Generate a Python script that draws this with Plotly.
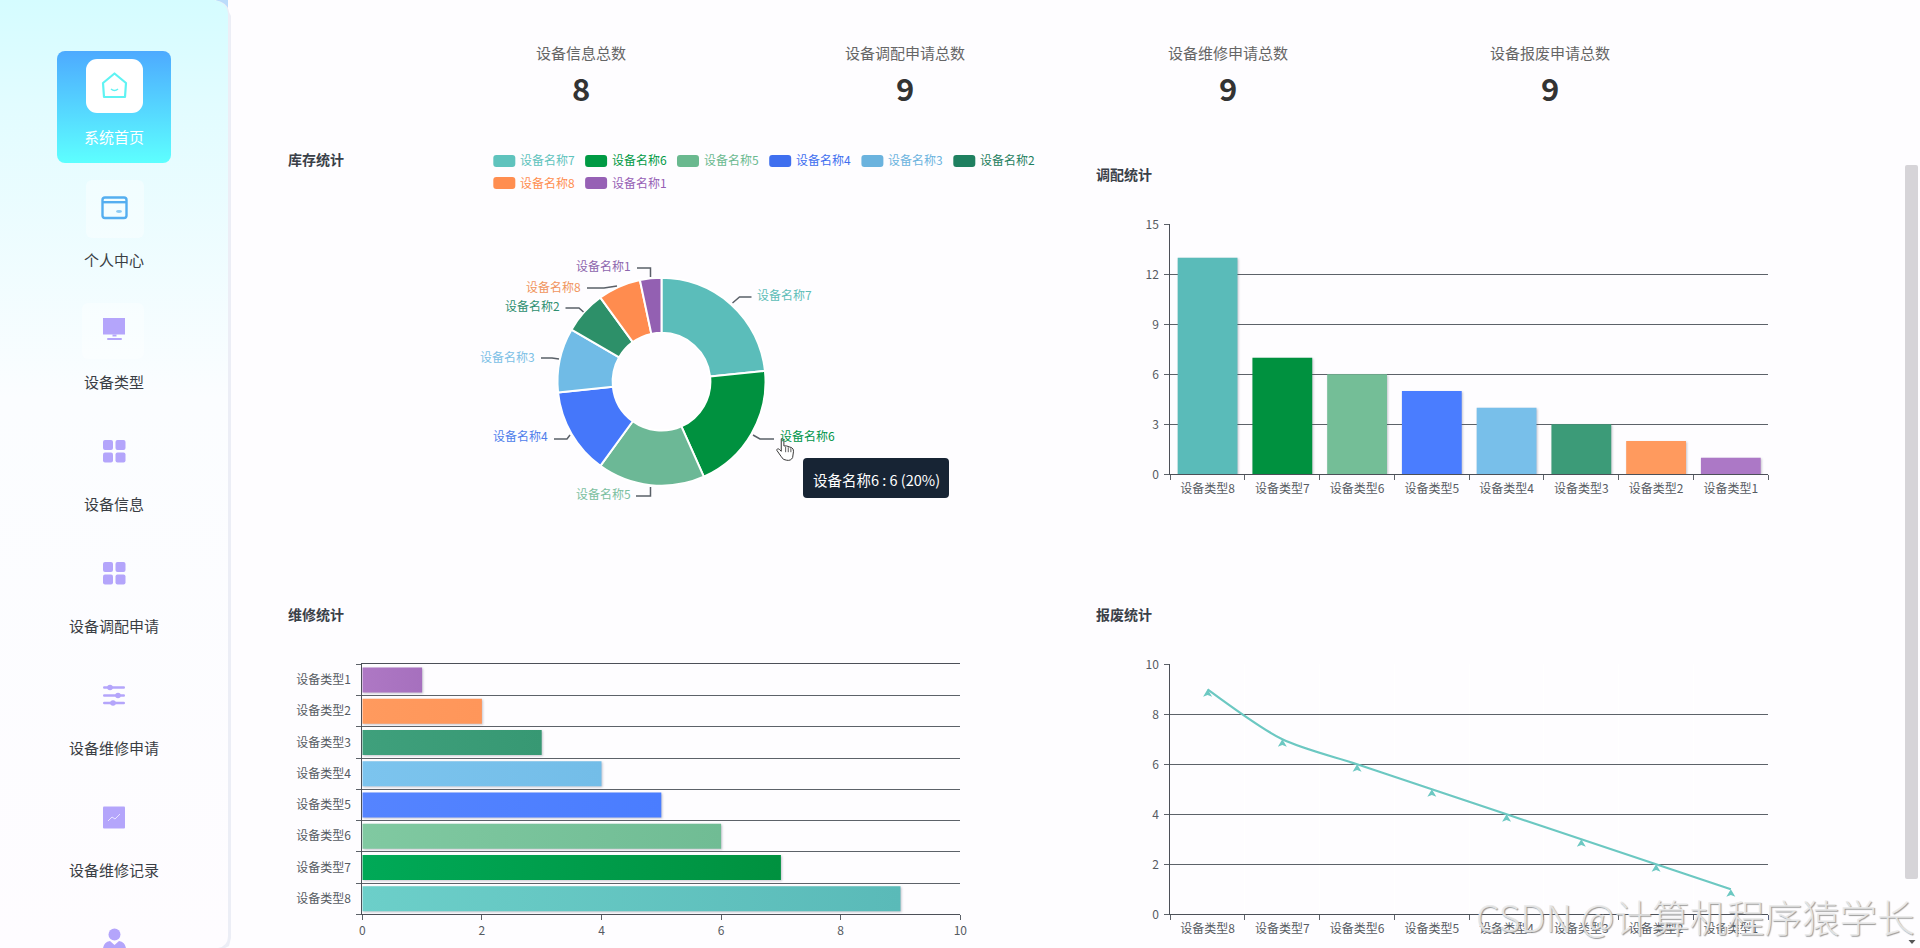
import base64, json
import plotly.graph_objects as go

# ---------- data ----------
kpi_labels = ["设备信息总数", "设备调配申请总数", "设备维修申请总数", "设备报废申请总数"]
kpi_values = ["8", "9", "9", "9"]
nav_labels = ["系统首页", "个人中心", "设备类型", "设备信息", "设备调配申请", "设备维修申请", "设备维修记录"]

stock_names = ["设备名称7", "设备名称6", "设备名称5", "设备名称4", "设备名称3", "设备名称2", "设备名称8", "设备名称1"]
stock_values = [7, 6, 5, 4, 3, 2, 2, 1]

transfer_cats = ["设备类型8", "设备类型7", "设备类型6", "设备类型5", "设备类型4", "设备类型3", "设备类型2", "设备类型1"]
transfer_values = [13, 7, 6, 5, 4, 3, 2, 1]

repair_cats = ["设备类型8", "设备类型7", "设备类型6", "设备类型5", "设备类型4", "设备类型3", "设备类型2", "设备类型1"]
repair_values = [9, 7, 6, 5, 4, 3, 2, 1]

scrap_cats = ["设备类型8", "设备类型7", "设备类型6", "设备类型5", "设备类型4", "设备类型3", "设备类型2", "设备类型1"]
scrap_values = [9, 7, 6, 5, 4, 3, 2, 1]

# ---------- styles ----------
W, H = 1920, 948
FONT = "Noto Sans CJK SC"
BG = "#FEFDFF"
GRID = "#5D6269"
TICK = "#565B62"
pie_colors = ["#5BBDBA", "#00913F", "#6CB896", "#4577FA", "#70BBE6", "#2D9069", "#FF8C4F", "#9360B2"]
legend_colors = ["#5FC3BD", "#009A44", "#6AB98F", "#3F6FEF", "#6BB3DE", "#1F8060", "#FF8E50", "#9660B5"]
label_colors = ["#5FBDB8", "#00954A", "#7BBFA0", "#4F7DEB", "#7CC0E6", "#2F8F70", "#F0955E", "#8E66AE"]
vbar_colors = ["#5ABBB9", "#00913F", "#74BE97", "#4A7DFF", "#78BFEA", "#3C9B78", "#FF9A5E", "#AC78C6"]
hbar_left = ["#6CCFC9", "#00A957", "#80C9A1", "#5584FF", "#7CC4EE", "#3FA07C", "#FF9A5E", "#AE78C4"]
hbar_right = ["#5ABAB8", "#00913F", "#70BC94", "#4A7DFF", "#73BDE8", "#379873", "#FF965A", "#A670BE"]
hbar_mid = ["#63C4C0", "#009D4B", "#78C29A", "#4F80FF", "#78C0EB", "#3B9C77", "#FF985C", "#AA74C1"]
line_color = "#6CC8C2"


def X(v):
    return v / W


def Y(v):
    return 1 - v / H


def path_of(points):
    return "M" + " L".join(f"{X(a):.5f},{Y(b):.5f}" for a, b in points)


def rounded(x0, y0, x1, y1, r):
    def p(a, b):
        return f"{X(a):.5f},{Y(b):.5f}"
    return (f"M{p(x0 + r, y0)} L{p(x1 - r, y0)} Q{p(x1, y0)} {p(x1, y0 + r)} "
            f"L{p(x1, y1 - r)} Q{p(x1, y1)} {p(x1 - r, y1)} L{p(x0 + r, y1)} "
            f"Q{p(x0, y1)} {p(x0, y1 - r)} L{p(x0, y0 + r)} Q{p(x0, y0)} {p(x0 + r, y0)} Z")


shapes = []
annotations = []


def text(s, x, y, size=12, color="#333", anchor="center", bold=False, **kw):
    if anchor == "left":
        x -= 1.5
    annotations.append(dict(
        text=f"<b>{s}</b>" if bold else s, x=X(x), y=Y(y - 1), xref="paper", yref="paper",
        xanchor=anchor, yanchor="middle", showarrow=False,
        font=dict(size=size, color=color, family=kw.pop("family", FONT), **kw),
        borderpad=0))


# ---------- sidebar artwork as one svg image ----------
ICON = "#B4A5FB"
def grid_icon(y):
    return "".join(f'<rect x="{x}" y="{y + dy}" width="10" height="10" rx="2" fill="{ICON}"/>'
                   for x in (103, 115.5) for dy in (0, 12.5))


svg_parts = [f'''<svg xmlns="http://www.w3.org/2000/svg" width="240" height="{H}" viewBox="0 0 240 {H}">
<defs>
<linearGradient id="side" x1="0" y1="0" x2="0" y2="1">
<stop offset="0" stop-color="#D5FCFF"/><stop offset="0.11" stop-color="#E2FCFF"/>
<stop offset="0.42" stop-color="#FBFDFF"/><stop offset="1" stop-color="#FEFCFF"/></linearGradient>
<linearGradient id="act" x1="0" y1="0" x2="0" y2="1">
<stop offset="0" stop-color="#4DAAFF"/><stop offset="1" stop-color="#5DFFFF"/></linearGradient>
</defs>
<rect x="216" y="0" width="12" height="12" fill="#BBDCFB"/>
<path d="M229,12 L231,16 L231,938 L229,946 L225,948 L0,948 L0,0 L214,0 Q228,2 229,12 Z" fill="#ECEEF6"/>
<path d="M228,14 L228,936 Q228,946 218,948 L0,948 L0,0 L214,0 Q227,2 228,14 Z" fill="url(#side)"/>
<rect x="57" y="51" width="114" height="112" rx="8" fill="url(#act)"/>
<rect x="86" y="59" width="57" height="54" rx="11" fill="#FFFFFF"/>
<path d="M103,83 L114.5,73.5 L126,83 L125,97 L104,97 Z" fill="none" stroke="#5FF3F3" stroke-width="2.2" stroke-linejoin="round"/>
<path d="M111,89 Q114.5,92 118,89" fill="none" stroke="#5FF3F3" stroke-width="1.6"/>
<rect x="86" y="180" width="58" height="58" rx="6" fill="#FFFFFF" fill-opacity="0.4"/>
<rect x="102.5" y="197.5" width="24" height="20.5" rx="2.5" fill="none" stroke="#54AEF0" stroke-width="2.4"/>
<rect x="102.5" y="201" width="24" height="2.4" fill="#54AEF0"/>
<ellipse cx="119" cy="211.5" rx="3" ry="1.4" fill="#8CCBF5"/>
<rect x="82" y="303" width="62" height="56" rx="6" fill="#FFFFFF" fill-opacity="0.35"/>
<rect x="103" y="318" width="22" height="16.5" fill="{ICON}"/>
<rect x="112.5" y="334.5" width="4" height="2" fill="{ICON}"/>
<rect x="107" y="338" width="15" height="2" rx="1" fill="{ICON}"/>
''', grid_icon(440), grid_icon(562)]
for yy, cx in ((687.5, 110), (695.5, 118), (703, 113)):
    svg_parts.append(f'<rect x="103" y="{yy - 1.2}" width="22" height="2.4" rx="1.2" fill="{ICON}"/>'
                     f'<circle cx="{cx}" cy="{yy}" r="2.8" fill="{ICON}"/>')
svg_parts.append(f'''<rect x="103" y="806.5" width="22" height="22" rx="1" fill="{ICON}"/>
<path d="M108,821 L112,817 L115,819 L120,814" fill="none" stroke="#EEEAFF" stroke-width="0.9"/>
<circle cx="114.5" cy="934.5" r="6" fill="{ICON}"/>
<path d="M103,948 Q104,942 110,941 L114.5,945 L119,941 Q125,942 126,948 Z" fill="{ICON}"/>
</svg>''')
side_svg = "".join(svg_parts)
cursor_svg = '''<svg xmlns="http://www.w3.org/2000/svg" width="24" height="28" viewBox="0 0 24 28">
<path d="M6,2 Q8,1 9,3 L9,10 L12,10 L15,11 L18,12 Q20,13 20,16 L19,23 Q17,27 12,26 Q8,26 6,22 L1,15 Q1,12 4,14 L6,16 Z" fill="#FFFFFF" stroke="#333" stroke-width="1.1"/>
<path d="M11,11 L11,17 M14,11.5 L14,17 M17,12.5 L17,17" stroke="#333" stroke-width="0.9"/></svg>'''


def data_uri(svg):
    return "data:image/svg+xml;base64," + base64.b64encode(svg.encode("utf-8")).decode()


images = [
    dict(source=data_uri(side_svg), xref="paper", yref="paper", x=0, y=1, sizex=X(240), sizey=1,
         xanchor="left", yanchor="top", layer="below", sizing="stretch"),
    dict(source=data_uri(cursor_svg), xref="paper", yref="paper", x=X(776), y=Y(437), sizex=X(21),
         sizey=25 / H, xanchor="left", yanchor="top", layer="above", sizing="stretch"),
]

# nav text
nav_y = [138, 260.7, 382.7, 504, 626.7, 748.7, 870.7]
for i, (lab, yy) in enumerate(zip(nav_labels, nav_y)):
    text(lab, 113.5, yy, size=15, color="#FFFFFF" if i == 0 else "#3A3E44")

# kpis
kpi_x = [581, 904.6, 1227.6, 1550]
for lab, val, xx in zip(kpi_labels, kpi_values, kpi_x):
    text(lab, xx, 53.5, size=15, color="#666666")
    text(val, xx, 88, size=31, color="#333333", bold=True)

# titles
text("库存统计", 288, 160, size=14, color="#3A4048", anchor="left", bold=True)
text("调配统计", 1096, 175, size=14, color="#3A4048", anchor="left", bold=True)
text("维修统计", 288, 615, size=14, color="#3A4048", anchor="left", bold=True)
text("报废统计", 1096, 615, size=14, color="#3A4048", anchor="left", bold=True)

# legend of the pie
leg_pos = [(493.3, 161), (585.1, 161), (677, 161), (769.2, 161), (861.4, 161), (953.3, 161), (493.3, 183), (585.1, 183)]
for name, col, (lx, ly) in zip(stock_names, legend_colors, leg_pos):
    shapes.append(dict(type="path", xref="paper", yref="paper", path=rounded(lx, ly - 6, lx + 22, ly + 6, 3),
                       fillcolor=col, line=dict(width=0)))
    text(name, lx + 27, ly, size=12, color=col, anchor="left")

# pie outside labels and their leader lines
pie_text_pos = [(757.4, 295), (780, 437), (576, 495), (493.3, 437), (480.7, 357), (505, 307), (526.6, 287), (576, 266)]
leaders = [
    [(732.5, 303), (739.5, 297), (751.5, 297)],
    [(753, 435), (760, 439), (774, 439)],
    [(650.5, 487), (650.5, 496), (636, 496)],
    [(570, 435), (567, 439), (554, 439)],
    [(559, 359), (552, 358), (541, 358)],
    [(583.5, 312), (579, 308), (565.5, 308)],
    [(617, 286), (604, 288), (587, 288)],
    [(650.5, 277), (650.5, 268), (637, 268)],
]
for name, col, (tx, ty), pts in zip(stock_names, label_colors, pie_text_pos, leaders):
    text(name, tx, ty, size=12, color=col, anchor="left")
    shapes.append(dict(type="path", xref="paper", yref="paper", path=path_of(pts),
                       line=dict(color="#5A6068", width=1.5)))

# tooltip
shapes.append(dict(type="path", xref="paper", yref="paper", path=rounded(803, 458, 949, 498, 4),
                   fillcolor="#172434", line=dict(width=0)))
text("设备名称6 : 6 (20%)", 876, 480, size=14.5, color="#FFFFFF")

# scrollbar
shapes.append(dict(type="path", xref="paper", yref="paper", path=rounded(1905, 165, 1918, 879, 2),
                   fillcolor="#D6D4D8", line=dict(width=0)))
shapes.append(dict(type="path", xref="paper", yref="paper",
                   path=path_of([(1908.5, 940), (1915.5, 940), (1912, 944)]) + " Z",
                   fillcolor="#555555", line=dict(width=0)))

# watermark
text("CSDN @计算机程序猿学长", 1695, 916, size=37.5, color="rgba(234,234,234,0.9)", weight=300,
     shadow="1px 1px 1px #8F8F8F")

# ---------- traces ----------
fig = go.Figure()
fig.add_trace(go.Pie(
    labels=stock_names, values=stock_values, sort=False, direction="clockwise", rotation=0,
    hole=0.47, textinfo="none", showlegend=False, hoverinfo="skip",
    marker=dict(colors=pie_colors, line=dict(color="#FFFFFF", width=2)),
    domain=dict(x=[X(557.5), X(765.5)], y=[Y(485.7), Y(277.7)]),
))
fig.add_trace(go.Bar(x=transfer_cats, y=transfer_values, marker=dict(color=vbar_colors, line=dict(width=0)),
                     width=0.8, xaxis="x", yaxis="y", hoverinfo="skip", showlegend=False))
fig.add_trace(go.Bar(y=repair_cats, x=repair_values, orientation="h", marker=dict(color=hbar_mid, line=dict(width=0)),
                     width=0.8, xaxis="x2", yaxis="y2", hoverinfo="skip", showlegend=False))
fig.add_trace(go.Scatter(x=scrap_cats, y=scrap_values, mode="lines+markers",
                         line=dict(color=line_color, width=2.2, shape="spline", smoothing=0.8),
                         marker=dict(symbol="arrow-wide", size=8, color=line_color),
                         xaxis="x3", yaxis="y3", hoverinfo="skip", showlegend=False))

tick_font = dict(size=12, color=TICK, family=FONT)


def cat_axis(domain, anchor, standoff=3):
    return dict(domain=domain, anchor=anchor, type="category", range=[-0.5, 7.5], tickson="boundaries",
                ticks="outside", ticklen=5, tickcolor=GRID, tickwidth=1, showline=True, linecolor="#4C5058",
                linewidth=1, tickfont=tick_font, fixedrange=True, automargin=False, ticklabelstandoff=standoff)


def val_axis(domain, anchor, top, step, grid=True, standoff=3):
    return dict(domain=domain, anchor=anchor, range=[0, top], dtick=step, tick0=0, ticks="outside", ticklen=5,
                tickcolor=GRID, tickwidth=1, showline=True, linecolor="#4C5058", linewidth=1, showgrid=grid,
                gridcolor=GRID, gridwidth=1, zeroline=False, tickfont=tick_font, fixedrange=True, automargin=False,
                ticklabelstandoff=standoff)


vx = [X(1170.2), X(1768.2)]
hx = [X(362.3), X(960.3)]
dy_top = [Y(474.3), Y(224.3)]
dy_bot = [Y(914.3), Y(664.3)]

y2 = cat_axis(dy_bot, "x2", standoff=8)
y2.update(showgrid=True, gridcolor=GRID, gridwidth=1)
x2 = val_axis(hx, "y2", 10, 2, grid=False, standoff=0)
x2.update(mirror=True)

fig.update_layout(
    width=W, height=H, autosize=False, margin=dict(l=0, r=0, t=0, b=0, pad=0),
    paper_bgcolor=BG, plot_bgcolor="rgba(0,0,0,0)", font=dict(family=FONT, size=12), hovermode=False,
    showlegend=False, bargap=0.2,
    xaxis=cat_axis(vx, "y"), yaxis=val_axis(dy_top, "x", 15, 3),
    xaxis2=x2, yaxis2=y2,
    xaxis3=cat_axis(vx, "y3"), yaxis3=val_axis(dy_bot, "x3", 10, 2),
    shapes=shapes, annotations=annotations, images=images,
)

post = """
document.body.style.margin = '0';
document.documentElement.style.overflow = 'hidden';
var gd = document.getElementById('{plot_id}');
var svg = gd.querySelector('svg.main-svg');
var left = %s, right = %s;
var ns = 'http://www.w3.org/2000/svg';
var defs = document.createElementNS(ns, 'defs');
left.forEach(function (c, i) {
  var g = document.createElementNS(ns, 'linearGradient');
  g.setAttribute('id', 'hbar' + i);
  [[0, c], [1, right[i]]].forEach(function (s) {
    var st = document.createElementNS(ns, 'stop');
    st.setAttribute('offset', s[0]); st.setAttribute('stop-color', s[1]); g.appendChild(st);
  });
  defs.appendChild(g);
});
svg.appendChild(defs);
gd.querySelectorAll('.subplot.x2y2 .bars .point path').forEach(function (p, i) {
  p.style.fill = 'url(#hbar' + i + ')';
});
gd.querySelectorAll('.bars .point path').forEach(function (p) {
  p.style.filter = 'drop-shadow(1px 1px 1px rgba(90,90,110,0.35))';
});
gd.querySelectorAll('.scatterlayer .points path.point').forEach(function (p) {
  p.setAttribute('d', 'M0,0 L4.5,7.5 L0,5.6 L-4.5,7.5 Z');
});
""" % (json.dumps(hbar_left), json.dumps(hbar_right))

fig.write_html("out.html", config=dict(displayModeBar=False, staticPlot=True), post_script=post)
